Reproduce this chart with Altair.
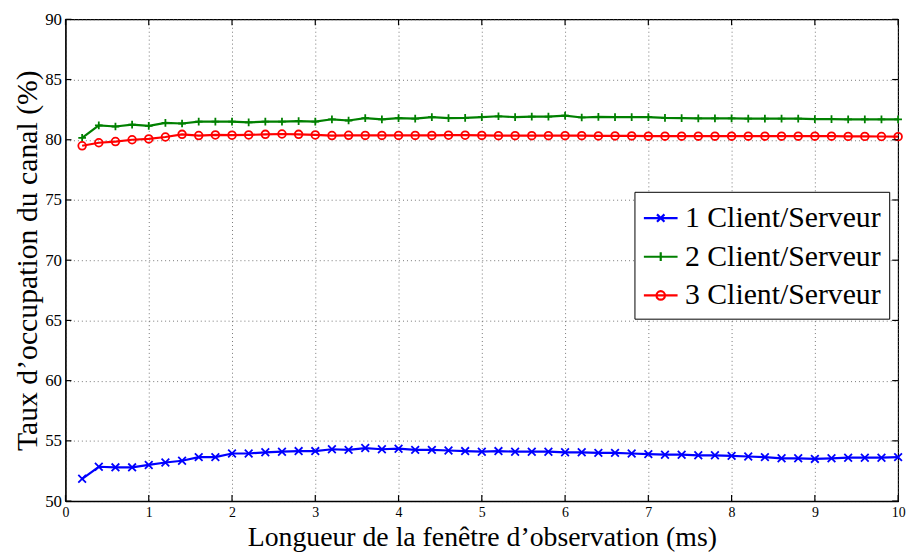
import altair as alt
import pandas as pd

x_vals = [round(0.2 * i, 1) for i in range(1, 51)]

serie1 = [51.85, 52.85, 52.8, 52.8, 53.0, 53.2, 53.35, 53.65, 53.65, 53.95,
          53.95, 54.05, 54.1, 54.15, 54.15, 54.3, 54.25, 54.4, 54.3, 54.35,
          54.25, 54.25, 54.2, 54.15, 54.1, 54.15, 54.1, 54.1, 54.1, 54.05,
          54.05, 54.0, 54.0, 53.95, 53.9, 53.85, 53.85, 53.8, 53.8, 53.75,
          53.7, 53.65, 53.55, 53.55, 53.5, 53.55, 53.6, 53.6, 53.6, 53.65]
serie2 = [80.15, 81.2, 81.1, 81.25, 81.15, 81.4, 81.35, 81.5, 81.5, 81.5,
          81.45, 81.5, 81.5, 81.55, 81.5, 81.7, 81.6, 81.8, 81.7, 81.8,
          81.75, 81.88, 81.8, 81.82, 81.88, 81.95, 81.88, 81.92, 81.92, 82.0,
          81.85, 81.9, 81.88, 81.88, 81.88, 81.82, 81.8, 81.78, 81.78, 81.78,
          81.75, 81.75, 81.75, 81.75, 81.72, 81.72, 81.7, 81.7, 81.7, 81.7]
serie3 = [79.5, 79.75, 79.85, 80.0, 80.07, 80.23, 80.45, 80.35, 80.4, 80.38,
          80.4, 80.45, 80.48, 80.45, 80.4, 80.35, 80.37, 80.36, 80.36, 80.36,
          80.36, 80.36, 80.38, 80.38, 80.36, 80.34, 80.34, 80.34, 80.34, 80.34,
          80.34, 80.32, 80.32, 80.32, 80.3, 80.3, 80.3, 80.3, 80.3, 80.3,
          80.3, 80.3, 80.3, 80.3, 80.3, 80.3, 80.28, 80.28, 80.27, 80.26]

series_names = ["1 Client/Serveur", "2 Client/Serveur", "3 Client/Serveur"]
colors = ["#0000FF", "#008000", "#FF0000"]
x_ticks = list(range(0, 11))
y_ticks = list(range(50, 91, 5))

rows = []
for name, vals in zip(series_names, [serie1, serie2, serie3]):
    for xv, yv in zip(x_vals, vals):
        rows.append({"x": xv, "y": yv, "serie": name})
df = pd.DataFrame(rows)

W, H = 840, 486
FONT = "Liberation Serif"

xs = alt.Scale(domain=[0, 10], nice=False, zero=False)
ys = alt.Scale(domain=[50, 90], nice=False, zero=False)
cs = alt.Scale(domain=series_names, range=colors)

marker_paths = ["M-1,-1L1,1M-1,1L1,-1", "M-1,0L1,0M0,-1L0,1", "circle"]
legend_paths = [
    "M-1,0L1,0M-0.22,-0.22L0.22,0.22M-0.22,0.22L0.22,-0.22",
    "M-1,0L1,0M0,-0.26L0,0.26",
    "M-1,0L1,0M-0.25,0A0.25,0.25,0,1,1,0.25,0A0.25,0.25,0,1,1,-0.25,0",
]

x_enc = alt.X("x:Q", scale=xs, axis=alt.Axis(
    values=x_ticks, format="d", title="Longueur de la fenêtre d’observation (ms)",
    grid=True, gridDash=[1, 3], gridColor="#555555", gridWidth=0.8,
    ticks=False, labelPadding=5, labelFlush=False, labelFont=FONT,
    labelFontSize=14, labelColor="black", titleFont=FONT, titleFontSize=28,
    titleFontWeight="normal", titleColor="black",
    titleY=45, titleBaseline="alphabetic",
    domainColor="black", domainWidth=1.2, labelOverlap=False))
y_enc = alt.Y("y:Q", scale=ys, axis=alt.Axis(
    values=y_ticks, format="d", title="Taux d’occupation du canal (%)",
    grid=True, gridDash=[1, 3], gridColor="#555555", gridWidth=0.8,
    ticks=False, labelPadding=4, labelFlush=False, labelFont=FONT,
    labelFontSize=17, labelColor="black", titleFont=FONT, titleFontSize=30,
    titleFontWeight="normal", titleColor="black",
    titleX=-29, titleY=H / 2, titleBaseline="alphabetic", titleAngle=270,
    domainColor="black", domainWidth=1.2, labelOverlap=False))

base = alt.Chart(df)

lines = base.mark_line(strokeWidth=2.2).encode(
    x=x_enc, y=y_enc,
    stroke=alt.Stroke("serie:N", scale=cs, legend=None),
    detail="serie:N",
)
point_layers = []
for name, path in zip(series_names, marker_paths):
    point_layers.append(
        base.transform_filter(alt.datum.serie == name).mark_point(
            filled=False, size=60, strokeWidth=1.8, opacity=1, shape=path
        ).encode(
            x=alt.X("x:Q", scale=xs), y=alt.Y("y:Q", scale=ys),
            stroke=alt.Stroke("serie:N", scale=cs, legend=None),
        )
    )
legend_layer = base.mark_point(filled=False, opacity=0).encode(
    x=alt.X("x:Q", scale=xs), y=alt.Y("y:Q", scale=ys),
    color=alt.Color("serie:N", scale=cs, legend=alt.Legend(title=None, symbolOpacity=1)),
    shape=alt.Shape("serie:N", scale=alt.Scale(domain=series_names, range=legend_paths),
                    legend=alt.Legend(title=None, symbolOpacity=1)),
)

xt = pd.DataFrame({"t": x_ticks})
yt = pd.DataFrame({"t": y_ticks})
tick_b = alt.Chart(xt).mark_rule(color="black", strokeWidth=1.2).encode(
    x=alt.X("t:Q", scale=xs), y=alt.value(H), y2=alt.value(H - 6))
tick_t = alt.Chart(xt).mark_rule(color="black", strokeWidth=1.2).encode(
    x=alt.X("t:Q", scale=xs), y=alt.value(0), y2=alt.value(6))
tick_l = alt.Chart(yt).mark_rule(color="black", strokeWidth=1.2).encode(
    y=alt.Y("t:Q", scale=ys), x=alt.value(0), x2=alt.value(6))
tick_r = alt.Chart(yt).mark_rule(color="black", strokeWidth=1.2).encode(
    y=alt.Y("t:Q", scale=ys), x=alt.value(W), x2=alt.value(W - 6))

chart = alt.layer(lines, *point_layers, legend_layer, tick_b, tick_t, tick_l, tick_r).resolve_scale(
    color="independent", shape="independent"
).properties(
    width=W, height=H,
    autosize=alt.AutoSizeParams(type="none"),
    padding={"left": 58, "top": 9, "right": 14, "bottom": 54},
).configure_view(
    stroke="black", strokeWidth=1.2
).configure_legend(
    orient="none", legendX=574, legendY=174,
    labelFont=FONT, labelFontSize=30, labelColor="black",
    symbolSize=1156, symbolStrokeWidth=2.2, symbolOpacity=1,
    strokeColor="black", fillColor="white", padding=8,
    rowPadding=5, labelOffset=6, labelLimit=400,
)

chart.save("out.html", embed_options={"renderer": "svg", "actions": False})
